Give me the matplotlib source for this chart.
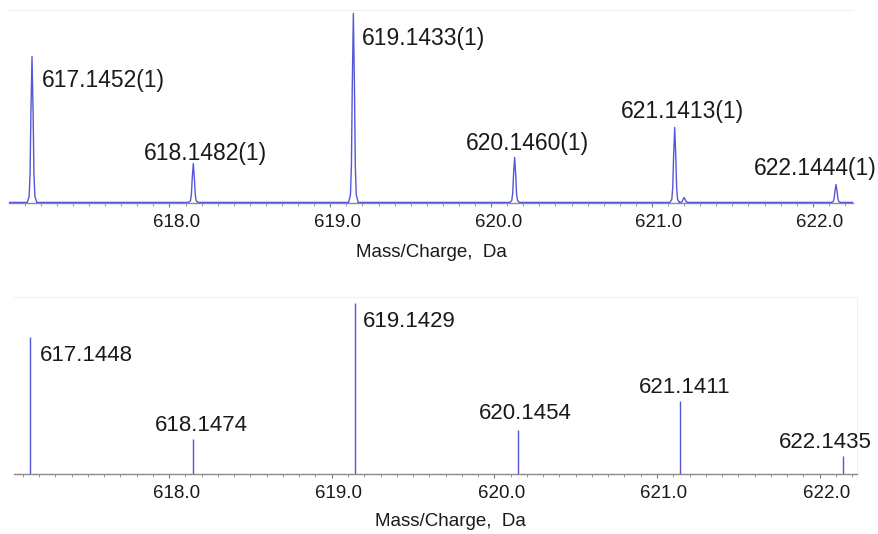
import numpy as np
import matplotlib
matplotlib.use("Agg")
import matplotlib.pyplot as plt
from matplotlib.ticker import MultipleLocator, FixedLocator, FormatStrFormatter
from matplotlib.transforms import ScaledTranslation

plt.rcParams['font.family'] = ['Liberation Sans', 'DejaVu Sans']

# ---------------- data ----------------
# measured (profile) spectrum, top panel
meas_mz = [617.1452, 618.1482, 619.1433, 620.1460, 621.1413, 622.1444]
meas_int = [77.2, 20.6, 100.0, 23.8, 39.7, 9.5]
meas_labels = ["617.1452(1)", "618.1482(1)", "619.1433(1)",
               "620.1460(1)", "621.1413(1)", "622.1444(1)"]
# small satellite shoulder next to 621.14
sat_mz = [621.20]
sat_int = [2.6]
# peak shape (offset in Da, fraction of apex)
shape_off = [-0.030, -0.018, -0.012, -0.007, 0.0, 0.007, 0.012, 0.018, 0.030]
shape_frac = [0.0, 0.04, 0.20, 0.60, 1.0, 0.60, 0.20, 0.04, 0.0]
baseline = 0.3

# theoretical (stick) spectrum, bottom panel
theo_mz = [617.1448, 618.1474, 619.1429, 620.1454, 621.1411, 622.1435]
theo_int = [79.8, 20.7, 100.0, 25.4, 42.5, 10.5]
theo_labels = ["617.1448", "618.1474", "619.1429", "620.1454", "621.1411", "622.1435"]

tick_vals = [618.0, 619.0, 620.0, 621.0, 622.0]
xlabel = "Mass/Charge,  Da"

# ---------------- layout ----------------
W, H = 879, 534
fig = plt.figure(figsize=(W / 100, H / 100), dpi=100)
ax1 = fig.add_axes([9.3 / W, 1 - 203 / H, (853 - 9.3) / W, (203 - 10) / H])
ax2 = fig.add_axes([14 / W, 1 - 474 / H, (857 - 14) / W, (474 - 297) / H])

line_col = "#5656d8"
txt_col = "#1a1a1a"

# build profile trace
xs, ys = [617.004], [baseline]
peaks = sorted(list(zip(meas_mz, meas_int)) + list(zip(sat_mz, sat_int)))
for c, h in peaks:
    for o, f in zip(shape_off, shape_frac):
        xs.append(c + o)
        ys.append(baseline + h * f)
xs.append(622.25)
ys.append(baseline)
ax1.plot(xs, ys, color=line_col, lw=1.0, zorder=3)

ax1.set_xlim(617.004, 622.25)
ax1.set_ylim(0, 100 * 193 / 189)

# sticks
ax2.vlines(theo_mz, 0, theo_int, color=line_col, lw=1.0, zorder=3)
ax2.set_xlim(617.046, 622.23)
ax2.set_ylim(0, 100 * 177.3 / 171.6)

# labels
top_off = [(10, -23, 'left'), (11.7, 11, 'center'), (9, -24, 'left'),
           (13, 15, 'center'), (8, 16, 'center'), (-21, 17, 'center')]
for mz, h, lab, (dx, dy, ha) in zip(meas_mz, meas_int, meas_labels, top_off):
    ax1.annotate(lab, xy=(mz, h), xytext=(dx, dy), textcoords='offset pixels',
                 ha=ha, va='center', fontsize=16.5, color=txt_col,
                 annotation_clip=False)

bot_off = [(10, -18, 'left'), (8, 13, 'center'), (8, -19, 'left'),
           (7, 17, 'center'), (5, 14, 'center'), (-17.5, 14, 'center')]
for mz, h, lab, (dx, dy, ha) in zip(theo_mz, theo_int, theo_labels, bot_off):
    ax2.annotate(lab, xy=(mz, h), xytext=(dx, dy), textcoords='offset pixels',
                 ha=ha, va='center', fontsize=16, color=txt_col,
                 annotation_clip=False)

for ax in (ax1, ax2):
    ax.set_yticks([])
    ax.xaxis.set_major_locator(FixedLocator(tick_vals))
    ax.xaxis.set_major_formatter(FormatStrFormatter('%.1f'))
    ax.xaxis.set_minor_locator(MultipleLocator(0.1))
    ax.tick_params(axis='x', which='major', length=3, width=0.8, color='#777777',
                   labelsize=13.5, labelcolor=txt_col, pad=5)
    ax.tick_params(axis='x', which='minor', length=2, width=0.6, color='#888888')
    ax.spines['left'].set_visible(False)
    for s in ('top', 'right'):
        ax.spines[s].set_color('#f0f0f0')
        ax.spines[s].set_linewidth(0.8)
    ax.spines['bottom'].set_color('#8a8a8a')
    ax.spines['bottom'].set_linewidth(1.0)
    ax.set_xlabel(xlabel, fontsize=13.5, color=txt_col, labelpad=9)
    shift = ScaledTranslation(7 / 100, 0, fig.dpi_scale_trans)
    for lbl in ax.get_xticklabels():
        lbl.set_transform(lbl.get_transform() + shift)

ax1.spines['right'].set_visible(False)
ax2.xaxis.set_label_coords((450 - 14) / (857 - 14), -0.22)

fig.savefig("out.png", dpi=100)
